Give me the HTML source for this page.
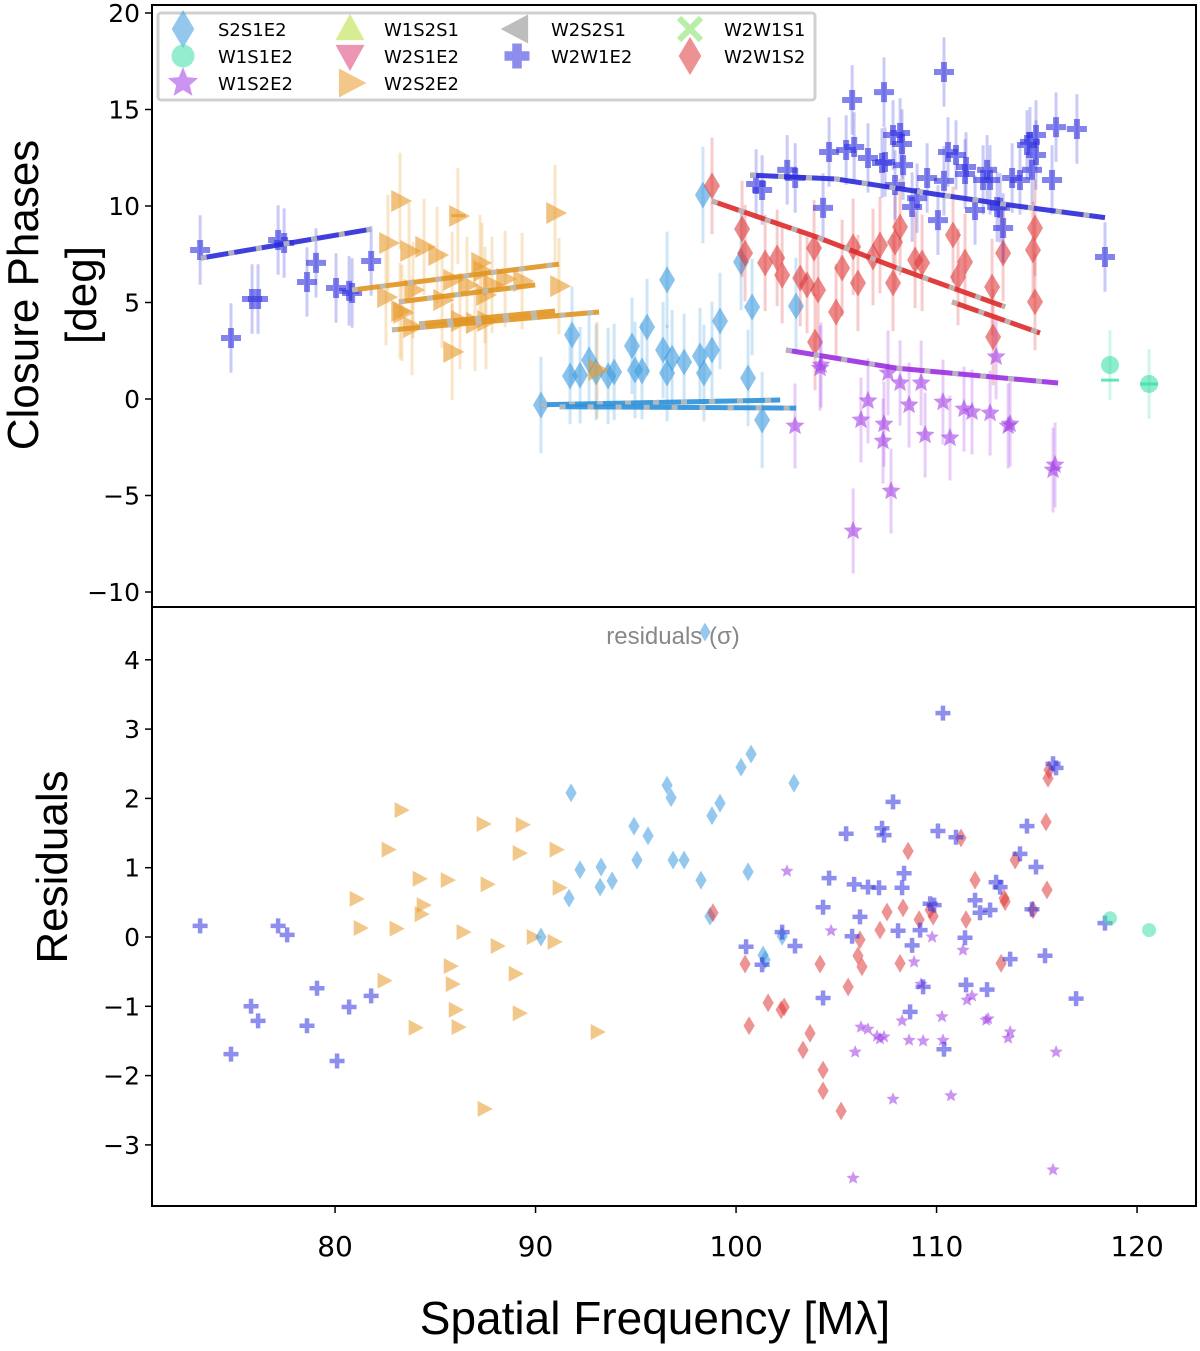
<!DOCTYPE html>
<html><head><meta charset="utf-8"><style>
body{margin:0;background:#fff}
svg text{font-family:"DejaVu Sans","Liberation Sans",sans-serif}
svg text.title{font-family:"Liberation Sans",sans-serif}
</style></head><body>
<svg id="chart" width="1200" height="1346" viewBox="0 0 1200 1346" xmlns="http://www.w3.org/2000/svg">
<g id="topPanel"></g>
<g id="botPanel"></g>
<g id="axesGroup"></g>
</svg>
<script>
// ---- data ----
const xTicks=[80,90,100,110,120];
const yTicksTop=[20,15,10,5,0,-5,-10];
const yTicksBot=[4,3,2,1,0,-1,-2,-3];

const w2w1e2X=[73.27,74.81,75.86,76.16,77.16,77.46,78.6,79.05,80.05,80.7,80.85,81.8,101.0,101.3,102.55,102.95,104.34,104.64,105.49,105.79,105.89,106.58,107.28,107.43,107.83,107.38,108.28,108.18,108.33,109.03,108.78,109.53,110.37,110.37,110.07,110.57,110.97,111.47,111.42,111.92,112.32,112.67,112.52,113.32,113.02,113.77,114.16,114.51,114.96,114.66,114.96,114.76,115.76,115.96,117.0,118.4,113.17,107.93];
const w2w1e2Y=[7.72,3.16,5.18,5.18,8.24,8.08,6.06,7.05,5.75,5.6,5.49,7.15,11.14,10.83,11.87,11.45,9.9,12.8,12.9,15.49,13.06,12.49,12.23,12.28,13.68,15.9,13.21,13.78,12.12,10.41,9.95,11.45,11.3,16.94,9.27,12.8,12.64,12.02,11.66,9.79,11.35,11.35,11.87,8.86,9.95,11.45,11.35,13.16,13.68,13.32,12.64,11.87,11.35,14.09,13.99,7.36,9.9,11.09];
const w2s2e2X=[83.24,82.64,83.69,84.44,85.09,86.13,87.23,87.33,86.58,82.54,83.89,85.84,87.48,87.83,88.48,89.33,90.97,91.17,83.34,83.84,86.23,87.53,85.84,86.98,85.34,83.24,93.07];
const w2s2e2Y=[10.26,8.08,7.67,7.88,7.46,9.48,7.05,6.63,5.91,5.28,5.65,6.17,5.39,5.91,6.22,6.11,9.64,5.85,4.46,3.73,4.04,4.04,2.44,3.94,5.13,4.56,1.5];
const s2s1e2X=[90.27,91.82,91.72,92.22,92.67,93.02,93.62,93.92,94.81,94.96,95.56,95.31,96.56,96.36,96.56,96.81,97.41,98.2,98.4,98.8,99.2,100.6,100.8,100.25,101.3,98.35,102.99];
const s2s1e2Y=[-0.31,3.32,1.19,1.24,2.02,1.4,1.19,1.4,2.75,1.5,3.73,1.45,6.17,2.54,1.35,2.12,1.92,2.23,1.35,2.54,4.04,1.09,4.77,7.1,-1.09,10.57,4.82];
const w2w1s2X=[98.8,100.3,100.45,101.45,102.05,102.3,103.2,103.54,104.09,103.89,105.29,104.99,106.08,105.84,106.83,107.18,107.83,107.93,108.18,108.93,109.28,110.82,111.07,111.42,112.82,112.77,113.32,114.91,114.81,114.91,103.94];
const w2w1s2Y=[11.04,8.81,7.56,7.05,7.31,6.42,6.27,5.91,5.65,7.82,6.79,4.51,6.01,7.88,7.36,7.98,6.01,8.13,8.91,7.2,7.05,8.5,6.32,7.1,3.21,5.8,7.56,8.86,7.72,5.03,2.95];
const w1s2e2X=[102.94,104.24,105.84,106.23,106.58,107.33,107.38,107.73,108.18,108.63,109.23,109.43,110.32,110.67,111.37,111.77,112.67,113.57,113.67,115.81,115.91,112.97,107.58,104.19];
const w1s2e2Y=[-1.4,1.76,-6.84,-1.09,-0.1,-2.18,-1.3,-4.77,0.83,-0.31,0.83,-1.87,-0.16,-2.02,-0.52,-0.67,-0.73,-1.4,-1.3,-3.68,-3.42,2.18,1.35,1.6];
const w1s1e2X=[118.65,120.6];
const w1s1e2Y=[1.76,0.78];
const w1s1e2Model=[0.98,0.78];

// model lines [x0,y0,x1,y1,...]
const modelBlue1=[73.3,7.3,81.8,8.8];
const modelBlue2=[100.7,11.6,105,11.4,110,10.6,114,10.0,118.4,9.4];
const modelOr1=[80.85,5.65,91.17,6.99];
const modelOr2=[83.19,5.03,89.98,5.91];
const modelOr3=[82.84,3.58,93.17,4.51];
const modelOr4=[84.19,3.89,90.97,4.56];
const modelLb1=[90.27,-0.3,102.2,-0.05];
const modelLb2=[91.2,-0.4,103.0,-0.47];
const modelRed1=[98.8,10.26,104,8.4,108,6.8,113.42,4.77];
const modelRed2=[110.77,5.03,115.16,3.42];
const modelPur=[102.49,2.54,108,1.6,116.06,0.83];

// residuals
const resBlueX=[73.27,74.81,75.81,76.16,77.16,77.61,78.6,79.1,80.1,80.7,81.8,100.5,101.3,102.3,102.94,104.34,104.34,104.64,105.49,105.79,105.89,106.18,106.58,107.13,107.28,107.38,107.83,108.08,108.28,108.38,108.68,108.78,109.18,109.33,109.68,109.88,110.07,110.32,110.37,110.97,111.42,111.47,111.92,112.17,112.52,112.67,112.97,113.17,113.67,114.16,114.51,114.76,114.96,115.41,115.81,115.96,116.96,118.4];
const resBlueY=[0.16,-1.69,-1.0,-1.21,0.16,0.03,-1.28,-0.74,-1.79,-1.01,-0.85,-0.14,-0.4,0.07,-0.13,-0.88,0.43,0.85,1.49,0.01,0.76,0.29,0.72,0.71,1.57,1.47,1.95,0.09,0.71,0.92,-1.08,-0.12,0.1,-0.72,0.48,0.46,1.53,3.23,-1.62,1.44,-0.01,-0.69,0.53,0.35,-0.76,0.39,0.79,0.72,-0.32,1.2,1.6,0.4,1.01,-0.27,2.5,2.44,-0.89,0.2];
const resOrX=[83.29,82.64,84.19,85.59,87.58,87.38,89.18,89.33,91.02,91.17,81.05,81.25,83.04,84.39,84.29,86.38,88.08,89.88,85.74,85.84,88.98,90.92,82.44,85.99,83.99,86.13,89.18,93.07,87.43];
const resOrY=[1.83,1.26,0.84,0.82,0.76,1.63,1.21,1.62,1.26,0.71,0.55,0.13,0.12,0.46,0.33,0.07,-0.13,0,-0.42,-0.68,-0.53,-0.07,-0.63,-1.05,-1.31,-1.3,-1.1,-1.37,-2.48];
const resLbX=[90.27,91.77,91.67,92.22,93.27,93.22,93.82,94.91,95.06,95.61,96.56,96.76,96.86,97.41,98.25,98.8,99.2,98.7,100.25,100.75,100.6,101.45,102.3,102.89,98.45,101.35];
const resLbY=[0,2.08,0.56,0.97,1.01,0.72,0.81,1.6,1.11,1.46,2.19,2.01,1.11,1.11,0.82,1.75,1.93,0.3,2.45,2.64,0.94,-0.33,0.01,2.22,4.4,-0.26];
const resRedX=[98.85,100.45,100.65,101.6,102.25,102.4,103.34,103.69,104.19,104.34,105.24,105.59,106.18,106.28,107.18,107.53,108.18,108.33,108.58,109.13,109.68,109.83,111.22,111.47,111.92,113.22,113.37,113.92,114.81,115.46,115.51,115.56,115.61,113.42,106.08,104.34];
const resRedY=[0.35,-0.39,-1.28,-0.95,-1.05,-1.01,-1.63,-1.39,-0.39,-2.22,-2.51,-0.72,-0.04,-0.43,0.1,0.36,-0.38,0.42,1.24,0.25,0.39,0.3,1.43,0.25,0.82,-0.38,0.56,1.11,0.39,1.66,0.68,2.29,2.41,0.51,-0.27,-1.92];
const resPurX=[102.54,104.74,105.94,106.23,106.58,107.38,107.83,108.28,108.63,108.88,109.23,109.33,109.78,110.32,110.27,110.72,111.32,111.52,111.77,112.47,112.57,113.57,113.67,115.81,115.96,105.84,107.18,107.03];
const resPurY=[0.95,0.09,-1.66,-1.3,-1.33,-1.44,-2.34,-1.21,-1.49,-0.36,-0.68,-1.5,0,-1.49,-1.15,-2.29,-0.19,-0.91,-0.85,-1.2,-1.18,-1.46,-1.37,-3.36,-1.66,-3.48,-1.47,-1.43];
const resTealX=[118.65,120.6];
const resTealY=[0.27,0.1];

// ---- scales ----
const X0=152,X1=1196,T0=5,T1=607,B1=1206;
const xMin=70.87,xMax=122.94;
const sx=v=>X0+(v-xMin)/(xMax-xMin)*(X1-X0);
const syT=v=>399-v*19.3;
const syB=v=>937-v*69.3;
const NS='http://www.w3.org/2000/svg';
function mk(tag,attrs,parent){const e=document.createElementNS(NS,tag);for(const k in attrs)e.setAttribute(k,attrs[k]);parent.appendChild(e);return e;}
const topG=document.getElementById('topPanel'),botG=document.getElementById('botPanel'),axesG=document.getElementById('axesGroup');

function shape(kind,cx,cy,s,fill,op,parent,name){
  let e;
  if(kind==='cross'){const a=s*0.3,b=s;
    e=mk('polygon',{points:`${cx-a},${cy-b} ${cx+a},${cy-b} ${cx+a},${cy-a} ${cx+b},${cy-a} ${cx+b},${cy+a} ${cx+a},${cy+a} ${cx+a},${cy+b} ${cx-a},${cy+b} ${cx-a},${cy+a} ${cx-b},${cy+a} ${cx-b},${cy-a} ${cx-a},${cy-a}`},parent);}
  else if(kind==='diamond'){e=mk('polygon',{points:`${cx},${cy-s*1.35} ${cx+s*0.8},${cy} ${cx},${cy+s*1.35} ${cx-s*0.8},${cy}`},parent);}
  else if(kind==='tri'){e=mk('polygon',{points:`${cx-s*0.8},${cy-s} ${cx+s*1.1},${cy} ${cx-s*0.8},${cy+s}`},parent);}
  else if(kind==='tril'){e=mk('polygon',{points:`${cx+s*0.8},${cy-s} ${cx-s*1.1},${cy} ${cx+s*0.8},${cy+s}`},parent);}
  else if(kind==='triu'){e=mk('polygon',{points:`${cx},${cy-s} ${cx+s},${cy+s*0.8} ${cx-s},${cy+s*0.8}`},parent);}
  else if(kind==='trid'){e=mk('polygon',{points:`${cx},${cy+s} ${cx+s},${cy-s*0.8} ${cx-s},${cy-s*0.8}`},parent);}
  else if(kind==='xmark'){e=mk('path',{d:`M${cx-s},${cy-s}L${cx+s},${cy+s}M${cx+s},${cy-s}L${cx-s},${cy+s}`,stroke:fill,'stroke-width':s*0.55,fill:'none'},parent);}
  else if(kind==='star'){let p=[];for(let i=0;i<10;i++){const r=i%2?s*0.45:s,an=-Math.PI/2+i*Math.PI/5;p.push((cx+r*Math.cos(an)).toFixed(1)+','+(cy+r*Math.sin(an)).toFixed(1));}e=mk('polygon',{points:p.join(' ')},parent);}
  else {e=mk('circle',{cx:cx,cy:cy,r:s},parent);}
  if(kind!=='xmark')e.setAttribute('fill',fill);
  e.setAttribute('opacity',op);
  
  
  return e;
}

function series(xs,ys,kind,size,color,err,name){
  const g=mk('g',{},topG);
  
  
  xs.forEach((x,i)=>{
    const l=mk('line',{x1:sx(x),x2:sx(x),y1:syT(ys[i]+err),y2:syT(ys[i]-err),stroke:color,'stroke-width':3,opacity:0.25},g);
    
    
  });
  xs.forEach((x,i)=>shape(kind,sx(x),syT(ys[i]),size,color,0.6,g,name+'-point'));
}
function model(arr,color,name){
  let pts=[];for(let i=0;i<arr.length;i+=2)pts.push(sx(arr[i]).toFixed(1)+','+syT(arr[i+1]).toFixed(1));
  const a=mk('polyline',{points:pts.join(' '),fill:'none',stroke:color,'stroke-width':5,opacity:0.9},topG);
  
  
  const b=mk('polyline',{points:pts.join(' '),fill:'none',stroke:'#bbb','stroke-width':5,'stroke-dasharray':'6 22',opacity:0.9},topG);
  
  
}
function resid(xs,ys,kind,size,color,name){
  const g=mk('g',{},botG);
  
  
  xs.forEach((x,i)=>shape(kind,sx(x),syB(ys[i]),size,color,0.55,g,name+'-residual-point'));
}

const C={lb:'#3d9be0',teal:'#3fe0aa',pur:'#a33de6',blue:'#3131e0',or:'#e89a2a',red:'#e03a3a'};
series(s2s1e2X,s2s1e2Y,'diamond',10,C.lb,2.5,'s2s1e2');
series(w2s2e2X,w2s2e2Y,'tri',11,C.or,2.5,'w2s2e2');
series(w2w1s2X,w2w1s2Y,'diamond',10,C.red,2.5,'w2w1s2');
series(w1s2e2X,w1s2e2Y,'star',10,C.pur,2.2,'w1s2e2');
series(w2w1e2X,w2w1e2Y,'cross',10,C.blue,1.8,'w2w1e2');
series(w1s1e2X,w1s1e2Y,'circle',9,C.teal,1.8,'w1s1e2');
w1s1e2X.forEach((x,i)=>{const l=mk('line',{x1:sx(x)-9,x2:sx(x)+9,y1:syT(w1s1e2Model[i]),y2:syT(w1s1e2Model[i]),stroke:C.teal,'stroke-width':3,opacity:0.8},topG);

});
{const l=mk('line',{x1:sx(85.8),x2:sx(86.5),y1:syT(9.5),y2:syT(9.5),stroke:C.or,'stroke-width':3,opacity:0.7},topG);

}
model(modelBlue1,'#2a2ad8','w2w1e2-model-left');
model(modelBlue2,'#2a2ad8','w2w1e2-model-right');
model(modelOr1,'#e09520','w2s2e2-model-1');
model(modelOr2,'#e09520','w2s2e2-model-2');
model(modelOr3,'#e09520','w2s2e2-model-3');
model(modelOr4,'#e09520','w2s2e2-model-4');
model(modelLb1,'#2b90d8','s2s1e2-model-1');
model(modelLb2,'#2b90d8','s2s1e2-model-2');
model(modelRed1,'#dd2a2a','w2w1s2-model-1');
model(modelRed2,'#dd2a2a','w2w1s2-model-2');
model(modelPur,'#9a2ee0','w1s2e2-model');

resid(resOrX,resOrY,'tri',8,C.or,'w2s2e2');
resid(resLbX,resLbY,'diamond',7,C.lb,'s2s1e2');
resid(resRedX,resRedY,'diamond',7,C.red,'w2w1s2');
resid(resPurX,resPurY,'star',7,C.pur,'w1s2e2');
resid(resBlueX,resBlueY,'cross',7.5,C.blue,'w2w1e2');
resid(resTealX,resTealY,'circle',7,C.teal,'w1s1e2');

// ---- axes ----
function rect(x,y,w,h,name){const r=mk('rect',{x:x,y:y,width:w,height:h,fill:'none',stroke:'#000','stroke-width':2},axesG);}
rect(X0,T0,X1-X0,T1-T0,'top-panel-frame');
rect(X0,T1,X1-X0,B1-T1,'bottom-panel-frame');
function txt(s,x,y,size,anchor,name,extra){const t=mk('text',Object.assign({x:x,y:y,'font-size':size,'text-anchor':anchor,fill:'#000'},extra||{}),axesG);t.textContent=s;return t;}
xTicks.forEach(v=>{mk('line',{x1:sx(v),x2:sx(v),y1:B1,y2:B1+7,stroke:'#000','stroke-width':1.5},axesG);txt(String(v),sx(v),1256,28,'middle','x-tick-label');});
yTicksTop.forEach(v=>{mk('line',{x1:X0-7,x2:X0,y1:syT(v),y2:syT(v),stroke:'#000','stroke-width':1.5},axesG);txt(String(v).replace('-','\u2212'),X0-12,syT(v)+9,25,'end','y-tick-label-top');});
yTicksBot.forEach(v=>{mk('line',{x1:X0-7,x2:X0,y1:syB(v),y2:syB(v),stroke:'#000','stroke-width':1.5},axesG);txt(String(v).replace('-','\u2212'),X0-12,syB(v)+9,25,'end','y-tick-label-bottom');});
txt('Spatial Frequency [M\u03bb]',655,1334,46,'middle','x-axis-title',{class:'title'});
txt('Closure Phases',38,295,44,'middle','y-axis-title-line1',{transform:'rotate(-90 38 295)',class:'title'});
txt('[deg]',96,295,44,'middle','y-axis-title-line2',{transform:'rotate(-90 96 295)',class:'title'});
txt('Residuals',67,867,44,'middle','residuals-axis-title',{transform:'rotate(-90 67 867)',class:'title'});
txt('residuals (\u03c3)',673,644,24,'middle','residuals-caption',{fill:'#888',class:'title'});

// ---- legend ----
const lg=mk('g',{},axesG);


const lb=mk('rect',{x:158,y:13,width:657,height:87,fill:'#fff',stroke:'#ccc','stroke-width':3,rx:3,opacity:0.9},lg);


const legNames=['S2S1E2','W1S1E2','W1S2E2','W1S2S1','W2S1E2','W2S2E2','W2S2S1','W2W1E2','W2W1S1','W2W1S2'];
const legKinds=['diamond','circle','star','triu','trid','tri','tril','cross','xmark','diamond'];
const legColors=[C.lb,C.teal,C.pur,'#b8e03a','#e0407a',C.or,'#888',C.blue,'#7fe060',C.red];
const legSize=[12,10,12,12,12,12,12,11,11,12];
const colMx=[183,350,517,690],colTx=[218,384,551,724],rowY=[29,56,83];
legNames.forEach((n,i)=>{
  const c=i<3?0:i<6?1:i<8?2:3, r=i<3?i:i<6?i-3:i<8?i-6:i-8;
  const g=mk('g',{},lg);
  
  
  const s=shape(legKinds[i],colMx[c],rowY[r],legSize[i],legColors[i],0.55,g,'legend-marker');
  if(legKinds[i]!=='xmark'){s.setAttribute('stroke',legColors[i]);s.setAttribute('stroke-width',3);}
  const t=mk('text',{x:colTx[c],y:rowY[r]+7,'font-size':18,fill:'#000'},g);t.textContent=n;
  
  
});
</script>
</body></html>
